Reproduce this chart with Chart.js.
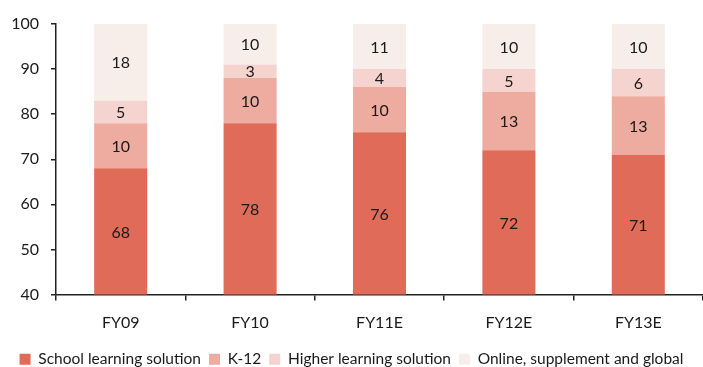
<!DOCTYPE html>
<html>
<head>
<meta charset="utf-8">
<script src="https://cdn.jsdelivr.net/npm/chart.js@4.4.0/dist/chart.umd.min.js"></script>
<style>
  html, body { margin: 0; padding: 0; background: #fff; }
  canvas { display: block; }
</style>
</head>
<body>
<canvas id="chart" width="703" height="367"></canvas>
<script>
  const years = ["FY09", "FY10", "FY11E", "FY12E", "FY13E"];
  const school = [68, 78, 76, 72, 71];
  const k12 = [10, 10, 10, 13, 13];
  const higher = [5, 3, 4, 5, 6];
  const online = [18, 10, 11, 10, 10];
  const yTicks = [40, 50, 60, 70, 80, 90, 100];

  const font = "Lato, 'Open Sans', sans-serif";

  // Write each segment's value in the middle of its visible part
  const segmentLabels = {
    id: "segmentLabels",
    afterDatasetsDraw(chart) {
      const ctx = chart.ctx;
      const area = chart.chartArea;
      ctx.save();
      ctx.fillStyle = "#1a1a1a";
      ctx.font = "16px " + font;
      ctx.textAlign = "center";
      ctx.textBaseline = "middle";
      chart.data.datasets.forEach((ds, i) => {
        chart.getDatasetMeta(i).data.forEach((bar, j) => {
          const top = Math.max(bar.y, area.top);
          const bottom = Math.min(bar.base, area.bottom);
          ctx.fillText(String(ds.data[j]), bar.x, (top + bottom) / 2 + 1);
        });
      });
      ctx.restore();
    }
  };

  new Chart(document.getElementById("chart"), {
    type: "bar",
    data: {
      labels: years,
      datasets: [
        { label: "School learning solution", data: school, backgroundColor: "#E06B58" },
        { label: "K-12", data: k12, backgroundColor: "#EEAB9F" },
        { label: "Higher learning solution", data: higher, backgroundColor: "#F5D3CF" },
        { label: "Online, supplement and global", data: online, backgroundColor: "#F8EEE9" },
      ],
    },
    options: {
      responsive: false,
      animation: false,
      layout: { padding: { top: 24, left: 0, right: 0, bottom: -10 } },
      datasets: {
        bar: { barPercentage: 0.82, categoryPercentage: 0.5 },
      },
      scales: {
        x: {
          stacked: true,
          afterFit(axis) {
            axis.height = 49;
          },
          border: { color: "#222", width: 1.5 },
          grid: { drawOnChartArea: false, tickLength: 6, color: "#222", lineWidth: 1.5 },
          ticks: { color: "#1a1a1a", font: { family: font, size: 16 }, padding: 13, maxRotation: 0 },
        },
        y: {
          stacked: true,
          min: 40,
          max: 100,
          afterBuildTicks(axis) {
            axis.ticks = yTicks.map((v) => ({ value: v }));
          },
          afterFit(axis) {
            axis.width = 56;
          },
          border: { color: "#222", width: 1.5 },
          grid: { drawOnChartArea: false, tickLength: 5, color: "#222", lineWidth: 1.5 },
          ticks: { color: "#1a1a1a", font: { family: font, size: 16 }, padding: 12 },
        },
      },
      plugins: {
        legend: {
          position: "bottom",
          labels: {
            color: "#1a1a1a",
            font: { family: font, size: 15.5 },
            boxWidth: 11,
            boxHeight: 11,
            padding: 8,
          },
        },
        tooltip: { enabled: false },
      },
    },
    plugins: [segmentLabels],
  });
</script>
</body>
</html>
